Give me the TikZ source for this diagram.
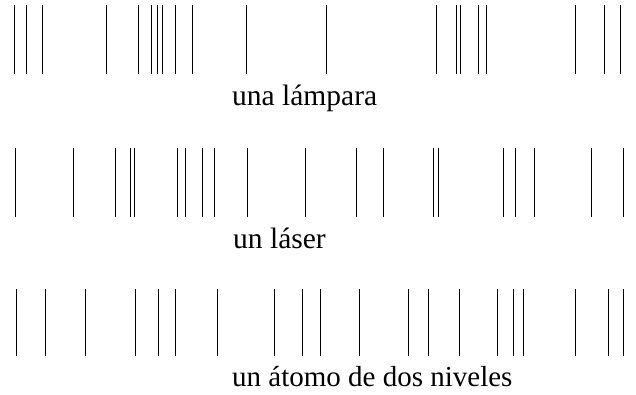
\documentclass[tikz,border=0pt]{standalone}
\usepackage{fontspec}
\setmainfont{Liberation Serif}
\usepackage{tikz}

\begin{document}
\begin{tikzpicture}[x=1pt,y=-1pt]

\useasboundingbox (0,0) rectangle (636,394);

\foreach \X in {14, 26.7, 42.3, 106, 138.3, 151.7, 157.3, 162.3, 175.7, 192.7, 246.7, 326, 436.7, 456.7, 460, 478.3, 486, 575.3, 604, 620}{
    \draw[line width=1pt] (\X,5) -- (\X,74);
}

\foreach \X in {15.7, 73.7, 115, 130, 134, 177.7, 185, 202.3, 214.7, 247.3, 305.7, 356.7, 383, 433.7, 438.7, 503, 515, 534.3, 591.7, 623.7}{
    \draw[line width=1pt] (\X,148) -- (\X,217);
}

\foreach \X in {16.7, 45.7, 85, 135, 158.7, 175.7, 217.7, 274.7, 302.3, 320, 359.3, 408.7, 428.7, 459.3, 497, 513.7, 523.7, 575.7, 608.3, 623.7}{
    \draw[line width=1pt] (\X,289) -- (\X,356);
}

\node[anchor=base west,inner sep=0pt,font=\fontsize{29.5}{34}\selectfont] (lampara) at (232,105) {una lámpara};
\node[anchor=base west,inner sep=0pt,font=\fontsize{29.5}{34}\selectfont] (laser) at (233,248) {un láser};
\node[anchor=base west,inner sep=0pt,font=\fontsize{29}{34}\selectfont] (atomo) at (232,386) {un átomo de dos niveles};

\end{tikzpicture}
\end{document}
